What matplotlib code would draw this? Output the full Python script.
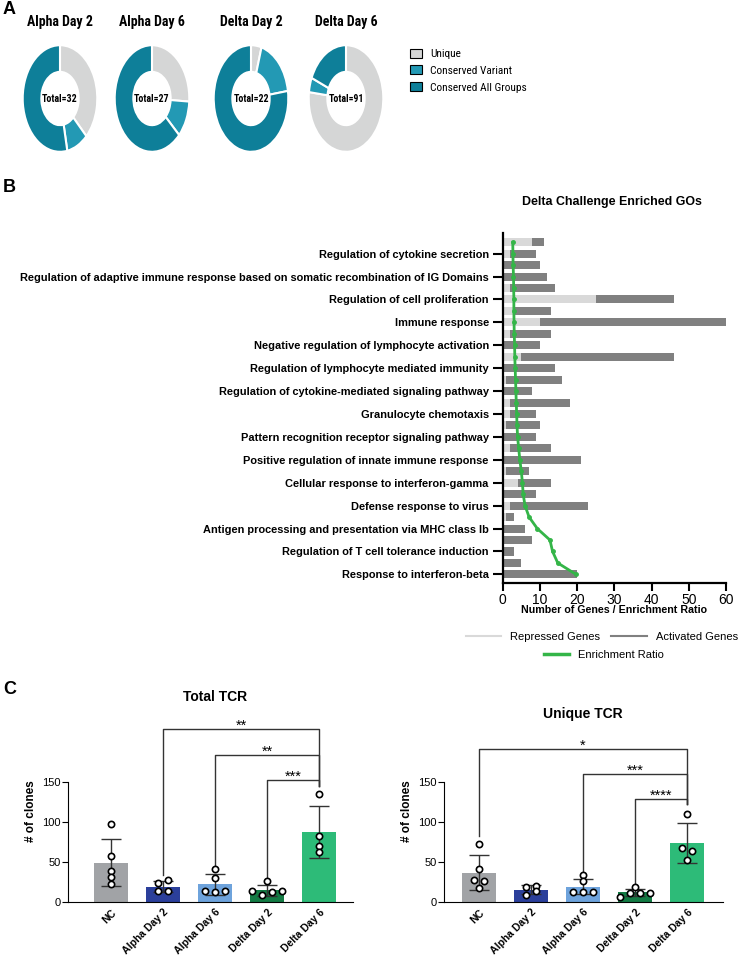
import matplotlib.pyplot as plt
import numpy as np
from matplotlib.patches import Patch
from matplotlib.lines import Line2D

plt.rcParams["font.family"] = ["Liberation Sans", "DejaVu Sans"]
NARROW = ["Roboto Condensed", "Liberation Sans", "DejaVu Sans"]

# ---- panel A data
DONUT_TITLES = ["Alpha Day 2", "Alpha Day 6", "Delta Day 2", "Delta Day 6"]
DONUT_PARTS = ["Unique", "Conserved Variant", "Conserved All Groups"]
UNIQUE = [12, 7, 1, 70]
CONS_VARIANT = [3, 3, 4, 4]
CONS_ALL = [17, 17, 17, 17]

# ---- panel B data (top to bottom, 30 rows; labels on every second row)
GO_LABELS = [
    "Regulation of cytokine secretion",
    "Regulation of adaptive immune response based on somatic recombination of IG Domains",
    "Regulation of cell proliferation",
    "Immune response",
    "Negative regulation of lymphocyte activation",
    "Regulation of lymphocyte mediated immunity",
    "Regulation of cytokine-mediated signaling pathway",
    "Granulocyte chemotaxis",
    "Pattern recognition receptor signaling pathway",
    "Positive regulation of innate immune response",
    "Cellular response to interferon-gamma",
    "Defense response to virus",
    "Antigen processing and presentation via MHC class Ib",
    "Regulation of T cell tolerance induction",
    "Response to interferon-beta",
]
REPRESSED = [8, 2, 0, 0, 2, 25, 3, 10, 2, 0, 5, 0, 1, 0, 2,
             2, 1, 0, 2, 0, 1, 4, 0, 2, 1, 0, 0, 0, 0, 0]
ACTIVATED = [3, 7, 10, 12, 12, 21, 10, 50, 11, 10, 41, 14, 15, 8, 16,
             7, 9, 9, 11, 21, 6, 9, 9, 21, 2, 6, 8, 3, 5, 20]
ENRICHMENT = [2.7, 2.75, 2.8, 2.9, 2.95, 3.0, 3.0, 3.05, 3.1, 3.2,
              3.25, 3.35, 3.45, 3.55, 3.65, 3.75, 3.85, 4.0, 4.3, 4.6,
              5.0, 5.3, 5.5, 6.0, 7.1, 9.3, 12.7, 13.4, 14.8, 19.7]

# ---- panel C data
GROUPS = ["NC", "Alpha Day 2", "Alpha Day 6", "Delta Day 2", "Delta Day 6"]
TOTAL_TCR = [[97, 57, 38, 31, 22], [23, 27, 13, 13], [41, 30, 13, 12, 13],
             [26, 13, 8, 12, 13], [135, 83, 70, 62]]
UNIQUE_TCR = [[72, 41, 27, 26, 17], [19, 20, 8, 13], [33, 26, 12, 12, 12],
              [19, 6, 11, 11, 11], [110, 68, 64, 52]]
TOTAL_SIG = [(1, 4, 217, 33, "**"), (2, 4, 184, 44, "**"), (3, 4, 153, 31, "***")]
UNIQUE_SIG = [(0, 4, 192, 82, "*"), (2, 4, 160, 36, "***"), (3, 4, 129, 23, "****")]

W, H = 740, 957
fig = plt.figure(figsize=(W / 100, H / 100), dpi=100)


def px_axes(left, top, right, bottom):
    return fig.add_axes([left / W, 1 - bottom / H, (right - left) / W, (bottom - top) / H])


# ================= A
donut_colors = ["#d5d6d6", "#2399b4", "#0e7f99"]
centers = [60, 152, 251, 346]
for i, cx in enumerate(centers):
    hw, hh = 37.3 * 1.03, 53.3 * 1.03
    ax = px_axes(cx - hw, 98.5 - hh, cx + hw, 98.5 + hh)
    vals = [UNIQUE[i], CONS_VARIANT[i], CONS_ALL[i]]
    ax.pie(vals, colors=donut_colors, startangle=90, counterclock=False,
           wedgeprops=dict(width=0.5, edgecolor="white", linewidth=1.5))
    ax.set_aspect("auto")
    ax.set_xlim(-1.03, 1.03)
    ax.set_ylim(-1.03, 1.03)
    ax.text(0, 0, "Total={}".format(sum(vals)), ha="center", va="center",
            fontsize=7.1, fontweight="bold", family=NARROW)
    fig.text(cx / W, 1 - 22 / H, DONUT_TITLES[i], ha="center", va="center",
             fontsize=10, fontweight="bold", family=NARROW)

handles = [Patch(facecolor=c, edgecolor="black", linewidth=0.8) for c in donut_colors]
fig.legend(handles, DONUT_PARTS, loc="upper left", bbox_to_anchor=(405 / W, 1 - 44 / H),
           frameon=False, prop=dict(family=NARROW, size=8.2), handlelength=1.1,
           handleheight=0.85, handletextpad=0.7, labelspacing=0.55, borderaxespad=0)

# ================= B
axb = px_axes(502.7, 233, 726, 583)
rows = np.arange(1, len(ACTIVATED) + 1)
axb.barh(rows, REPRESSED, height=0.7, color="#d9d9d9")
axb.barh(rows, ACTIVATED, left=REPRESSED, height=0.7, color="#808080")
axb.plot(ENRICHMENT, rows, color="#34b548", lw=2, marker="o", ms=2.5)
axb.set_ylim(30.75, 0.2)
axb.set_xlim(0, 60)
axb.set_yticks(rows[1::2])
axb.set_yticklabels(GO_LABELS, fontsize=7.9, fontweight="bold")
axb.set_xticks(np.arange(0, 61, 10))
axb.tick_params(axis="x", labelsize=10, width=1.5, length=6, pad=1)
axb.tick_params(axis="y", width=1.5, length=7, pad=3)
for s in ["top", "right"]:
    axb.spines[s].set_visible(False)
for s in ["left", "bottom"]:
    axb.spines[s].set_linewidth(1.6)
axb.set_xlabel("Number of Genes / Enrichment Ratio", fontsize=7.7, fontweight="bold", labelpad=-1)
fig.text(612 / W, 1 - 202 / H, "Delta Challenge Enriched GOs", ha="center", va="center",
         fontsize=8.9, fontweight="bold")

leg1 = [Line2D([], [], color="#d9d9d9", lw=1.5), Line2D([], [], color="#808080", lw=1.5)]
fig.legend(leg1, ["Repressed Genes", "Activated Genes"], ncol=2, loc="center",
           bbox_to_anchor=(602 / W, 1 - 637 / H), frameon=False, fontsize=8,
           handlelength=3.2, columnspacing=1.0, handletextpad=0.8)
fig.legend([Line2D([], [], color="#34b548", lw=2.5)], ["Enrichment Ratio"], loc="center",
           bbox_to_anchor=(604 / W, 1 - 655 / H), frameon=False, fontsize=8,
           handlelength=2.2, handletextpad=0.8)

# ================= C
bar_colors = ["#a1a3a6", "#2b3f9b", "#6ea3dc", "#137b44", "#2dbb78"]


def swarm_offsets(vals, thr=5.5, step=0.19):
    offs = []
    group = [0]
    for k in range(1, len(vals) + 1):
        if k < len(vals) and abs(vals[k] - vals[k - 1]) < thr:
            group.append(k)
            continue
        n = len(group)
        offs.extend((np.arange(n) - (n - 1) / 2) * step)
        group = [k]
    return offs


def tcr_panel(ax, data, sigs, right_leg):
    x = np.arange(len(GROUPS))
    means = [np.mean(d) for d in data]
    sds = [np.std(d, ddof=1) for d in data]
    ax.bar(x, means, width=0.65, color=bar_colors, zorder=1)
    ax.errorbar(x, means, yerr=sds, fmt="none", ecolor="#333333", elinewidth=1,
                capsize=7, capthick=1, zorder=2)
    for i, d in enumerate(data):
        ax.plot(x[i] + np.array(swarm_offsets(d)), d, "o", ms=4.5, mfc="white",
                mec="black", mew=1.2, zorder=3, clip_on=False)
    for a, b, y, low, star in sigs:
        ax.plot([a, a, b, b], [low, y, y, right_leg], color="#333333", lw=1, clip_on=False)
        ax.text((a + b) / 2, y - 1, star, ha="center", va="baseline", fontsize=10.5)
    ax.set_ylim(0, 228)
    ax.set_yticks([0, 50, 100, 150])
    ax.spines["left"].set_bounds(0, 150)
    for s in ["top", "right"]:
        ax.spines[s].set_visible(False)
    ax.set_xticks(x)
    ax.set_xticklabels(GROUPS, rotation=45, ha="right", rotation_mode="anchor",
                       fontsize=7.5, fontweight="bold")
    ax.tick_params(axis="y", labelsize=8, length=4, pad=1)
    ax.tick_params(axis="x", length=0, pad=4)
    ax.set_ylabel("# of clones", fontsize=8.5, fontweight="bold", labelpad=4)


ax_tot = px_axes(68, 720, 353, 901.7)
tcr_panel(ax_tot, TOTAL_TCR, TOTAL_SIG, 145)
ax_tot.set_xlim(-0.83, 4.65)
fig.text(215 / W, 1 - 697 / H, "Total TCR", ha="center", va="center", fontsize=10, fontweight="bold")

ax_uni = px_axes(444, 720, 723, 901.7)
tcr_panel(ax_uni, UNIQUE_TCR, UNIQUE_SIG, 123)
ax_uni.set_xlim(-0.67, 4.69)
fig.text(583 / W, 1 - 714 / H, "Unique TCR", ha="center", va="center", fontsize=10, fontweight="bold")

for letter, y in [("A", 10), ("B", 187), ("C", 689)]:
    fig.text(3 / W, 1 - y / H, letter, ha="left", va="center", fontsize=13, fontweight="bold")

fig.savefig("out.png", dpi=100)
